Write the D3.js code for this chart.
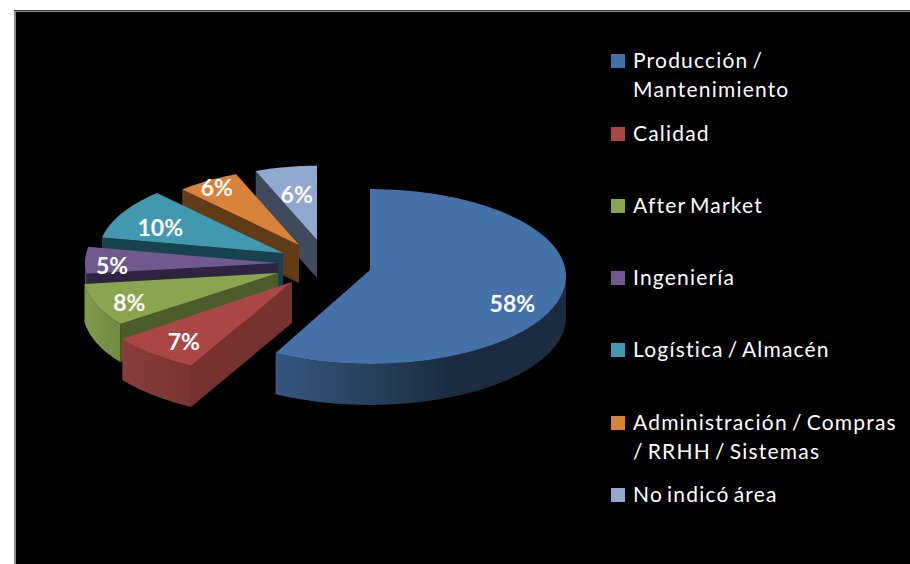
<!DOCTYPE html>
<html><head><meta charset="utf-8">
<script src="https://cdn.jsdelivr.net/npm/d3@7/dist/d3.min.js"></script>
<style>html,body{margin:0;padding:0;background:#fff}svg{display:block}</style>
</head><body><div id="c"></div>
<script>
const categories = ["Producción / Mantenimiento","Calidad","After Market","Ingeniería","Logística / Almacén","Administración / Compras / RRHH / Sistemas","No indicó área"];
const values = [58,7,8,5,10,6,6];
const legendLines = [["Producción /","Mantenimiento"],["Calidad"],["After Market"],["Ingeniería"],["Logística / Almacén"],["Administración / Compras","/ RRHH / Sistemas"],["No indicó área"]];
const topColors = ["#4472a8","#aa4644","#89a64e","#71588f","#4198af","#d9823a","#93a8cf"];
const wallColors = ["#1c2d42","#763231","#4c5c2b","#2e2340","#17424e","#623b14","#3f4a5c"];
const rimLeft = ["#35587f","#8a3c3b","#7f9b4a","#5a4672","#2f7080","#a0602a","#6a7a98"];
const rimRight = ["#1b2c40","#7a3432","#6f8a40","#5a4672","#2f7080","#a0602a","#6a7a98"];

// layout of the exploded, tilted slices
const W = 910, H = 564, RX = 196, RY = 87.4;
const depth = [41,41,38,38,38,38,38];
const apexX = [370,292,278,278,283,299,317];
const apexY = [270,282,273,263,253,245,240];
const sliceScale = [1,1.07,.995,.985,.94,.87,.85];
const arcShift = [6.5,2,0,0,0,0,0];
const labelAt = [.75,.78,.82,.86,.76,.9,.65];
const labelDy = [13,4,4,5,5,1,2];
const legendX = 611, legendTextX = 633;
const legendBase = [[68,97],[141],[213],[285],[357],[430,459],[502]];

const svg = d3.select("#c").append("svg").attr("width",W).attr("height",H);
svg.append("rect").attr("x",14).attr("y",10).attr("width",W-14).attr("height",H-10).attr("fill","#8a8a8a");
svg.append("rect").attr("x",14).attr("y",10).attr("width",W-14).attr("height",1).attr("fill","#3a3a3a");
svg.append("rect").attr("x",16).attr("y",12).attr("width",W-16).attr("height",H-12).attr("fill","#000");

const defs = svg.append("defs");
const arcs = d3.pie().sort(null).value(v=>v)(values);
const color = d3.scaleOrdinal(d3.range(7),topColors);
const line = d3.line();
const pt = (i,t,dy=0)=>[
  apexX[i]+sliceScale[i]*RX*Math.sin(t),
  apexY[i]+arcShift[i]+dy-sliceScale[i]*RY*Math.cos(t)];
const sweep = (i,a,b,dy=0)=>{
  const n = Math.max(2,Math.ceil((b-a)/0.02));
  return d3.range(n+1).map(k=>pt(i,a+(b-a)*k/n,dy));
};

arcs.map((d,i)=>({d,i})).reverse().forEach(({d,i})=>{
  const g = svg.append("g");
  const a = d.startAngle, b = d.endAngle, P = Math.PI, D = depth[i];
  if (a > P) {
    const o = pt(i,a), o2 = pt(i,a,D);
    g.append("path").attr("fill",wallColors[i])
      .attr("d",line([[apexX[i],apexY[i]],o,o2,[apexX[i],apexY[i]+D]])+"Z");
  }
  const ra = Math.max(a,P/2), rb = Math.min(b,1.5*P);
  if (rb > ra) {
    const top = sweep(i,ra,rb), bot = sweep(i,ra,rb,D).reverse();
    const xs = top.map(p=>p[0]);
    const gid = "rim"+i;
    const lg = defs.append("linearGradient").attr("id",gid).attr("gradientUnits","userSpaceOnUse")
      .attr("x1",d3.min(xs)).attr("x2",d3.max(xs)).attr("y1",0).attr("y2",0);
    lg.append("stop").attr("offset",0).attr("stop-color",rimLeft[i]);
    lg.append("stop").attr("offset",i===0?.6:1).attr("stop-color",rimRight[i]);
    g.append("path").attr("fill",`url(#${gid})`).attr("d",line(top.concat(bot))+"Z");
  }
  g.append("path").attr("fill",color(i))
    .attr("d",line([[apexX[i],apexY[i]]].concat(sweep(i,a,b)))+"Z");
});

arcs.forEach((d,i)=>{
  const m = (d.startAngle+d.endAngle)/2;
  const x = apexX[i]+labelAt[i]*sliceScale[i]*RX*Math.sin(m);
  const y = apexY[i]+arcShift[i]*labelAt[i]-labelAt[i]*sliceScale[i]*RY*Math.cos(m)+labelDy[i];
  svg.append("text").attr("x",x).attr("y",y+8).attr("text-anchor","middle")
    .attr("font-family","Lato").attr("font-weight",700).attr("font-size",23).attr("fill","#fff")
    .text(d3.format(".0%")(values[i]/d3.sum(values)));
});

categories.forEach((c,i)=>{
  const g = svg.append("g").attr("class","legend").attr("data-name",c);
  g.append("rect").attr("x",legendX).attr("y",legendBase[i][0]-14).attr("width",14).attr("height",14).attr("fill",topColors[i]);
  legendLines[i].forEach((t,j)=>{
    g.append("text").attr("x",legendTextX).attr("y",legendBase[i][j])
      .attr("font-family","Lato").attr("font-size",21).attr("letter-spacing","1.2px").attr("word-spacing","-2.5px")
      .attr("fill","#fff").text(t);
  });
});
</script></body></html>
